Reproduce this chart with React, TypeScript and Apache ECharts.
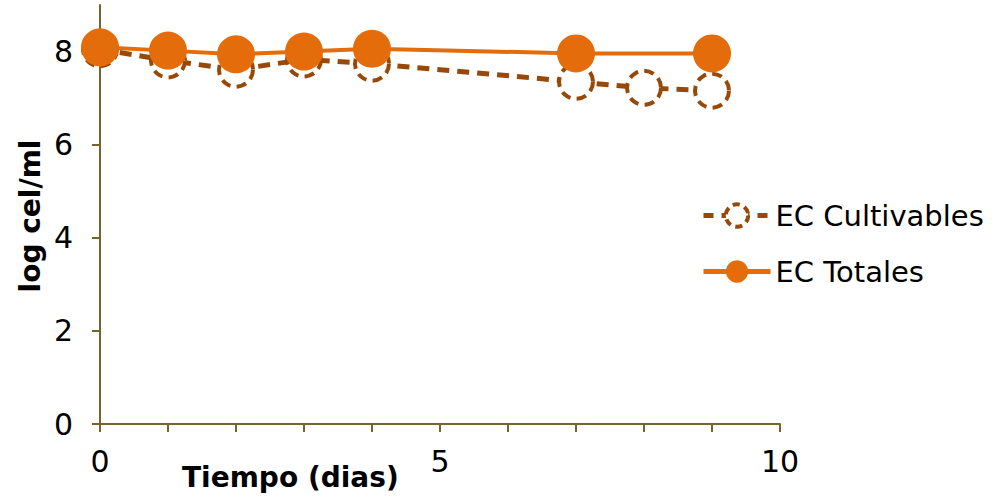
import React, { useEffect, useRef } from "react";
import * as echarts from "echarts";

const days = [0, 1, 2, 3, 4, 7, 8, 9];
const cultivables = [8.05, 7.81, 7.61, 7.83, 7.74, 7.35, 7.22, 7.16];
const totalesDays = [0, 1, 2, 3, 4, 7, 9];
const totales = [8.09, 8.02, 7.94, 8.0, 8.06, 7.96, 7.96];
const yTicks = [0, 2, 4, 6, 8];
const xLabels = [0, 5, 10];
const seriesNames = ["EC Cultivables", "EC Totales"];

const FONT = "DejaVu Sans";
const AXIS = "#76652a";
const DARK = "#984807";
const ORANGE = "#E46C0A";

export default function App() {
  const ref = useRef<HTMLDivElement>(null);
  useEffect(() => {
    const chart = echarts.init(ref.current!, null, { renderer: "svg" });
    chart.setOption({
      animation: false,
      backgroundColor: "#ffffff",
      grid: { left: 100, right: 220, top: 5, bottom: 79 },
      legend: {
        orient: "vertical",
        left: 696,
        top: 196,
        itemWidth: 67,
        itemHeight: 28,
        itemGap: 27,
        data: [
          {
            name: seriesNames[0],
            itemStyle: { color: "#ffffff", borderColor: DARK, borderWidth: 4, borderType: [7, 5] },
            lineStyle: { color: DARK, width: 5, type: [10, 8] },
          },
          {
            name: seriesNames[1],
            itemStyle: { color: ORANGE },
            lineStyle: { color: ORANGE, width: 5 },
          },
        ],
        textStyle: { fontFamily: FONT, fontSize: 29, color: "#000" },
      },
      xAxis: {
        type: "value",
        min: 0,
        max: 10,
        interval: 1,
        axisLine: { lineStyle: { color: AXIS, width: 2 } },
        axisTick: { show: true, length: 8, lineStyle: { color: AXIS, width: 2 } },
        splitLine: { show: false },
        axisLabel: {
          margin: 22,
          fontFamily: FONT,
          fontSize: 30,
          color: "#000",
          formatter: (v: number) => (xLabels.includes(v) ? String(v) : ""),
        },
      },
      yAxis: {
        type: "value",
        min: 0,
        max: 9,
        axisLine: { show: true, lineStyle: { color: AXIS, width: 2 } },
        axisTick: { show: true, length: 8, customValues: yTicks, lineStyle: { color: AXIS, width: 2 } },
        splitLine: { show: false },
        axisLabel: {
          margin: 27,
          fontFamily: FONT,
          fontSize: 30,
          color: "#000",
          customValues: yTicks,
        },
      },
      graphic: [
        {
          type: "text",
          left: 182,
          top: 463,
          style: { text: "Tiempo (dias)", fontFamily: FONT, fontWeight: "bold", fontSize: 28, fill: "#000" },
        },
        {
          type: "text",
          x: 30,
          y: 216,
          rotation: Math.PI / 2,
          style: {
            text: "log cel/ml",
            fontFamily: FONT,
            fontWeight: "bold",
            fontSize: 28,
            fill: "#000",
            align: "center",
            verticalAlign: "middle",
          },
          originX: 0,
          originY: 0,
        },
      ],
      series: [
        {
          name: seriesNames[0],
          type: "line",
          data: days.map((d, i) => [d, cultivables[i]]),
          symbol: "circle",
          symbolSize: 34,
          lineStyle: { color: DARK, width: 5, type: [12, 8] },
          itemStyle: { color: "#ffffff", borderColor: DARK, borderWidth: 4, borderType: [10, 6] },
        },
        {
          name: seriesNames[1],
          type: "line",
          data: totalesDays.map((d, i) => [d, totales[i]]),
          symbol: "circle",
          symbolSize: 38,
          lineStyle: { color: ORANGE, width: 4 },
          itemStyle: { color: ORANGE, borderWidth: 0 },
        },
      ],
    });
    return () => chart.dispose();
  }, []);
  return <div ref={ref} style={{ width: 1000, height: 503, position: "absolute", left: 0, top: 0 }} />;
}
